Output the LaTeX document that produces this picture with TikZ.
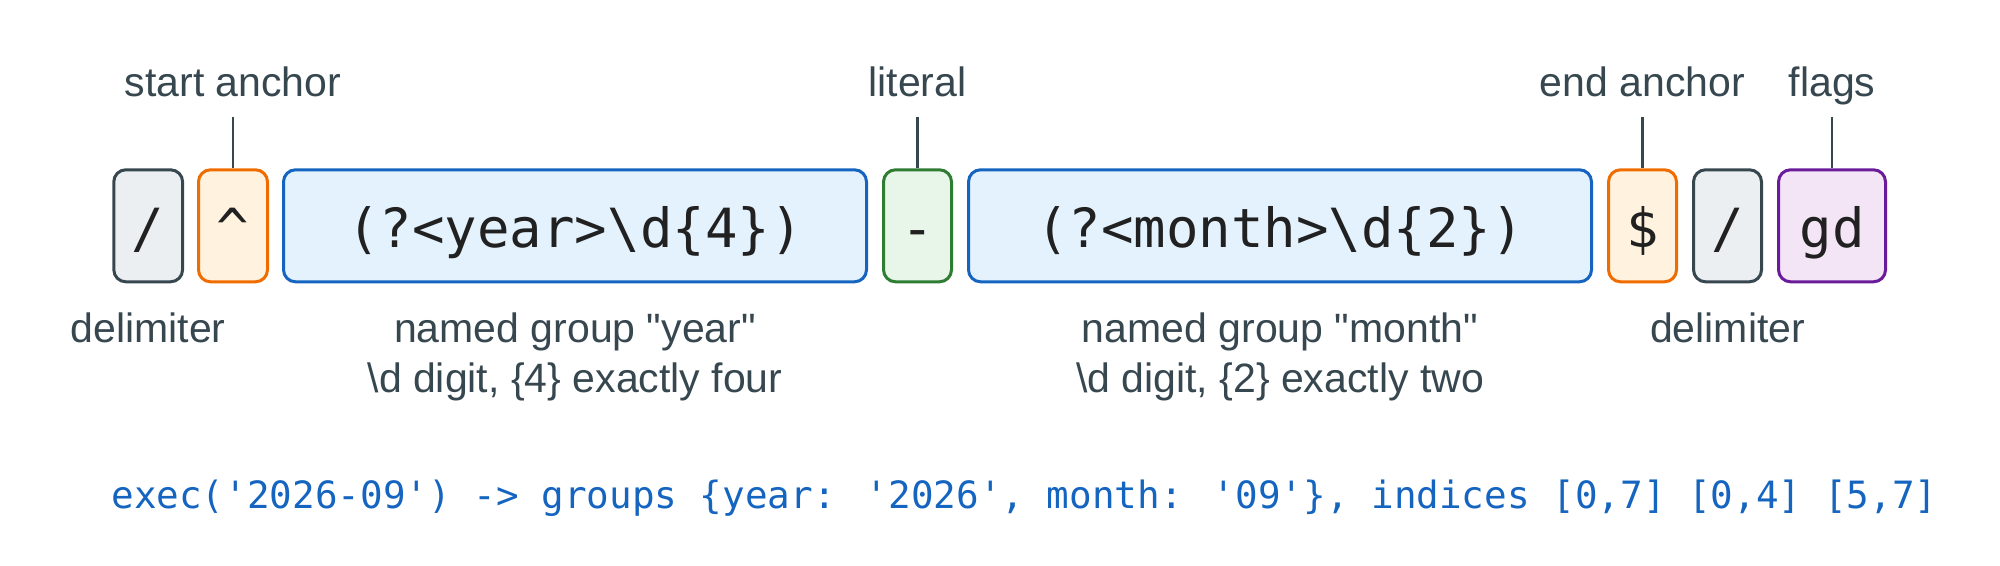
\documentclass[tikz,border=0pt]{standalone}
\usepackage{fontspec}
\setmainfont{Liberation Sans}[Ligatures=TeXOff]
\newfontfamily\monof{DejaVu Sans Mono}
\definecolor{delimS}{HTML}{37474F}
\definecolor{delimF}{HTML}{ECEFF1}
\definecolor{anchS}{HTML}{EF6C00}
\definecolor{anchF}{HTML}{FFF3E0}
\definecolor{grpS}{HTML}{1565C0}
\definecolor{grpF}{HTML}{E3F2FD}
\definecolor{litS}{HTML}{2E7D32}
\definecolor{litF}{HTML}{E8F5E9}
\definecolor{flgS}{HTML}{6A1B9A}
\definecolor{flgF}{HTML}{F3E5F5}
\definecolor{tokT}{HTML}{212121}
\definecolor{labT}{HTML}{37474F}
\definecolor{execT}{HTML}{1565C0}
\tikzset{
  tok/.style={rounded corners=6pt, line width=1.5pt, minimum height=56pt,
    inner sep=0pt, text height=24pt, text depth=2pt, text=tokT,
    font=\monof\fontsize{27}{32}\selectfont},
  delimbox/.style={tok, draw=delimS, fill=delimF},
  anchbox/.style={tok, draw=anchS, fill=anchF},
  grpbox/.style={tok, draw=grpS, fill=grpF},
  litbox/.style={tok, draw=litS, fill=litF},
  flgbox/.style={tok, draw=flgS, fill=flgF},
  lab/.style={anchor=base, inner sep=0pt, text=labT,
    font=\fontsize{20.5}{24}\selectfont},
  conn/.style={draw=labT, line width=1.25pt},
  exectxt/.style={anchor=base west, inner sep=0pt, text=execT,
    font=\monof\fontsize{18.8}{23}\selectfont}
}
\begin{document}
\begin{tikzpicture}[x=0.5pt,y=-0.5pt]
\useasboundingbox (0,0) rectangle (2000,566);
% tokens
\node[delimbox, minimum width=34.4pt] (d1) at (148.2,225.8) {/};
\node[anchbox, minimum width=34.5pt] (caret) at (233,225.8) {\textasciicircum};
\node[grpbox, minimum width=291.5pt] (year) at (575,225.8) {(?<year>\textbackslash d\{4\})};
\node[litbox, minimum width=34pt] (dash) at (917.5,225.8) {-};
\node[grpbox, minimum width=311.5pt] (month) at (1280,225.8) {(?<month>\textbackslash d\{2\})};
\node[anchbox, minimum width=34pt] (dollar) at (1642.5,225.8) {\$};
\node[delimbox, minimum width=34pt] (d2) at (1727.5,225.8) {/};
\node[flgbox, minimum width=53.5pt] (flags) at (1832,225.8) {gd};
% top labels
\node[lab] (lstart) at (233,97) {start anchor};
\node[lab] (llit) at (917.5,97) {literal};
\node[lab] (lend) at (1642.5,97) {end anchor};
\node[lab] (lflags) at (1832,97) {flags};
\coordinate (cstart) at (233,117);
\coordinate (clit) at (917.5,117);
\coordinate (cend) at (1642.5,117);
\coordinate (cflags) at (1832,117);
\draw[conn] (cstart) -- (caret.north);
\draw[conn] (clit) -- (dash.north);
\draw[conn] (cend) -- (dollar.north);
\draw[conn] (cflags) -- (flags.north);
% bottom labels
\node[lab] (ldel1) at (148.2,343) {delimiter};
\node[lab] (lyear1) at (575,343) {named group "year"};
\node[lab] (lyear2) at (575,392) {\textbackslash d digit, \{4\} exactly four};
\node[lab] (lmon1) at (1280,343) {named group "month"};
\node[lab] (lmon2) at (1280,392) {\textbackslash d digit, \{2\} exactly two};
\node[lab] (ldel2) at (1727.5,343) {delimiter};
% exec line
\node[exectxt] (exec) at (111,508) {exec('2026-09') -> groups \{year: '2026', month: '09'\}, indices [0,7] [0,4] [5,7]};
\end{tikzpicture}
\end{document}
